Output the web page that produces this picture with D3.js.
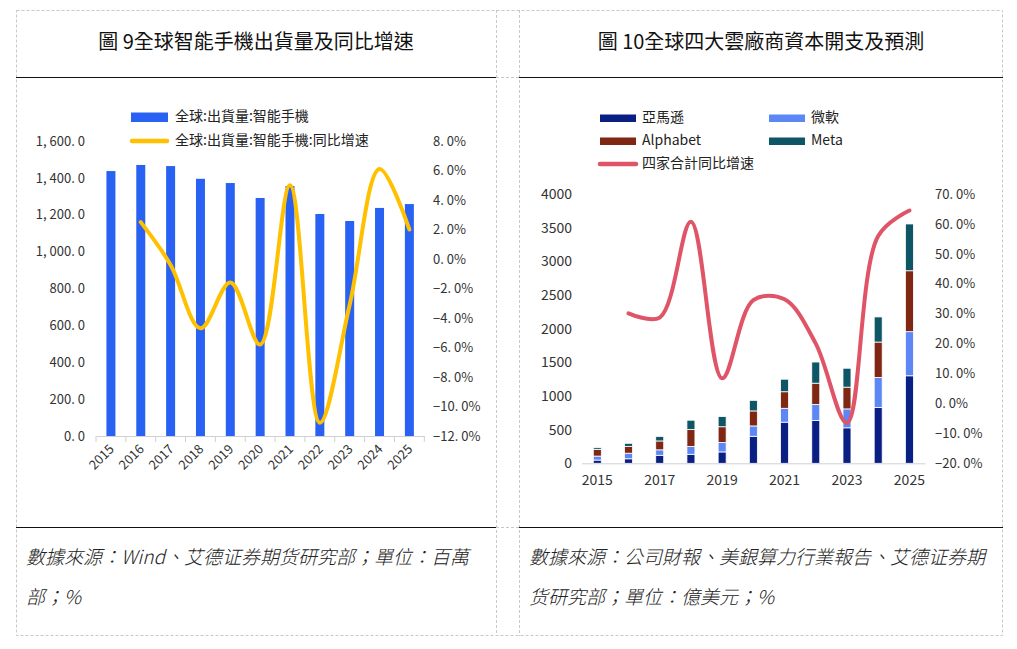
<!DOCTYPE html>
<html>
<head>
<meta charset="utf-8">
<script src="https://cdn.jsdelivr.net/npm/d3@7"></script>
<style>
  body { margin: 0; background: #fff; }
  text { font-family: "Noto Sans CJK TC", "Noto Sans CJK SC", sans-serif; fill: #222; }
  .tick-label { font-family: "Noto Sans CJK SC", sans-serif; font-size: 13px; fill: #333; }
  .legend { font-family: "Noto Sans CJK SC", sans-serif; font-size: 14px; fill: #222; }
  .title { font-size: 20px; font-weight: 400; fill: #111; }
  .footer { font-size: 19px; font-style: italic; font-weight: 300; fill: #222; }
</style>
</head>
<body>
<svg id="chart" width="1017" height="649"></svg>
<script>
// ---- data: chart 9 (smartphone shipments, millions / YoY %) ----
const YEARS = ['2015', '2016', '2017', '2018', '2019', '2020', '2021', '2022', '2023', '2024', '2025'];
const PHONE_SHIPMENTS = [1437, 1470, 1464, 1395, 1372, 1291, 1356, 1204, 1166, 1237, 1258];
const PHONE_GROWTH = [null, 2.5, -0.4, -4.7, -1.6, -5.8, 5.0, -11.1, -3.1, 6.1, 2.0];
const PHONE_LEFT_TICKS = [0, 200, 400, 600, 800, 1000, 1200, 1400, 1600];
const PHONE_RIGHT_TICKS = [-12, -10, -8, -6, -4, -2, 0, 2, 4, 6, 8];

// ---- data: chart 10 (cloud capex, 億美元 / YoY %) ----
const CAPEX_KEYS = ['亞馬遜', '微軟', 'Alphabet', 'Meta'];
const AMAZON = [48, 67, 119, 134, 169, 401, 611, 636, 527, 830, 1300];
const MICROSOFT = [59, 83, 81, 116, 139, 154, 206, 239, 281, 446, 655];
const ALPHABET = [99, 102, 132, 251, 235, 223, 246, 315, 323, 525, 905];
const META = [25, 45, 67, 139, 151, 157, 186, 314, 281, 373, 695];
const CAPEX_GROWTH = [null, 30.1, 28.7, 60.7, 8.4, 34.5, 34.8, 20.0, -6.5, 56.0, 64.5];
const CAPEX_LEFT_TICKS = [0, 500, 1000, 1500, 2000, 2500, 3000, 3500, 4000];
const CAPEX_RIGHT_TICKS = [-20, -10, 0, 10, 20, 30, 40, 50, 60, 70];
const CAPEX_X_LABELS = ['2015', '2017', '2019', '2021', '2023', '2025'];

const BAR_BLUE = '#2962f2';
const LINE_YELLOW = '#ffc000';
const CAPEX_COLORS = ['#0a1f84', '#5c87f5', '#7f2712', '#0e5566'];
const LINE_RED = '#e05468';

const svg = d3.select('#chart');

// spaced number formats, as the source renders them
const fmtThousands = v => d3.format(',.1f')(v).replace(',', ', ').replace('.', '. ');
const fmtPct = v => d3.format('.1f')(v).replace('-', '−').replace('.', '. ') + '%';

// smoothed line similar to the spreadsheet's "smooth line"
const smooth = d3.curveCatmullRom.alpha(0.5);

//////////////
// Frames   //
//////////////

const frame = svg.append('g')
  .attr('fill', 'none')
  .attr('stroke', '#c8c8c8')
  .attr('stroke-dasharray', '3,2');
frame.append('rect').attr('x', 16.5).attr('y', 10.5).attr('width', 986).attr('height', 625);
frame.append('line').attr('x1', 496.5).attr('x2', 496.5).attr('y1', 10).attr('y2', 636);
frame.append('line').attr('x1', 519.5).attr('x2', 519.5).attr('y1', 10).attr('y2', 636);
frame.append('line').attr('x1', 496).attr('x2', 519).attr('y1', 77.5).attr('y2', 77.5);
frame.append('line').attr('x1', 496).attr('x2', 519).attr('y1', 527.5).attr('y2', 527.5);

const solid = svg.append('g').attr('stroke', '#111').attr('stroke-width', 1.2);
[[16, 496], [519, 1003]].forEach(([a, b]) => {
  solid.append('line').attr('x1', a).attr('x2', b).attr('y1', 77.5).attr('y2', 77.5);
  solid.append('line').attr('x1', a).attr('x2', b).attr('y1', 527.5).attr('y2', 527.5);
});

svg.append('text').attr('class', 'title')
  .attr('x', 256).attr('y', 44).attr('text-anchor', 'middle').attr('dominant-baseline', 'middle')
  .text('圖 9全球智能手機出貨量及同比增速');
svg.append('text').attr('class', 'title')
  .attr('x', 761).attr('y', 44).attr('text-anchor', 'middle').attr('dominant-baseline', 'middle')
  .text('圖 10全球四大雲廠商資本開支及預測');

const footers = [
  { x: 26, lines: ['數據來源：Wind、艾德证券期货研究部；單位：百萬', '部；%'] },
  { x: 529, lines: ['數據來源：公司財報、美銀算力行業報告、艾德证券期', '货研究部；單位：億美元；%'] }
];
footers.forEach(f => {
  f.lines.forEach((l, i) => {
    svg.append('text').attr('class', 'footer')
      .attr('x', f.x).attr('y', 559 + i * 40).attr('dominant-baseline', 'middle')
      .text(l);
  });
});

///////////////////////////
// Chart 9: smartphones  //
///////////////////////////

(function () {
  const g = svg.append('g');
  const x = d3.scaleBand().domain(YEARS).range([96, 424.3]);
  const yL = d3.scaleLinear().domain([0, 1600]).range([436, 141]);
  const yR = d3.scaleLinear().domain([-12, 8]).range([436, 141]);
  const barW = 9;

  g.selectAll('rect.bar')
    .data(YEARS.map((y, i) => ({ year: y, v: PHONE_SHIPMENTS[i] })))
    .enter().append('rect')
      .attr('class', 'bar')
      .attr('x', d => x(d.year) + x.bandwidth() / 2 - barW / 2)
      .attr('width', barW)
      .attr('y', d => yL(d.v))
      .attr('height', d => yL(0) - yL(d.v))
      .attr('fill', BAR_BLUE);

  // x axis
  const xAxis = g.append('g').attr('transform', `translate(0,${yL(0)})`)
    .call(d3.axisBottom(x).tickSize(0).tickFormat(''));
  xAxis.select('.domain').attr('stroke', '#d0d0d0');
  xAxis.selectAll('.tick').remove();
  const edges = YEARS.map(y => x(y)).concat([x.range()[1]]);
  g.selectAll('line.xtick').data(edges).enter().append('line')
    .attr('x1', d => d).attr('x2', d => d)
    .attr('y1', yL(0)).attr('y2', yL(0) + 6)
    .attr('stroke', '#d0d0d0');
  g.selectAll('text.xlab').data(YEARS).enter().append('text')
    .attr('class', 'tick-label')
    .attr('text-anchor', 'end')
    .attr('transform', d => `translate(${x(d) + x.bandwidth() / 2 + 4},${yL(0) + 14}) rotate(-45)`)
    .text(d => d);

  // y axes
  const left = g.append('g').attr('transform', 'translate(85,0)')
    .call(d3.axisLeft(yL).tickValues(PHONE_LEFT_TICKS).tickSize(0).tickPadding(0).tickFormat(fmtThousands));
  left.select('.domain').remove();
  left.selectAll('text').attr('class', 'tick-label').attr('fill', null).attr('font-size', null).attr('font-family', null);

  const right = g.append('g').attr('transform', 'translate(433,0)')
    .call(d3.axisRight(yR).tickValues(PHONE_RIGHT_TICKS).tickSize(0).tickPadding(0).tickFormat(fmtPct));
  right.select('.domain').remove();
  right.selectAll('text').attr('class', 'tick-label').attr('fill', null).attr('font-size', null).attr('font-family', null);

  // growth line
  const pts = YEARS.map((y, i) => ({ year: y, v: PHONE_GROWTH[i] })).filter(d => d.v !== null);
  g.append('path')
    .datum(pts)
    .attr('fill', 'none')
    .attr('stroke', LINE_YELLOW)
    .attr('stroke-width', 4)
    .attr('stroke-linecap', 'round')
    .attr('d', d3.line()
      .x(d => x(d.year) + x.bandwidth() / 2)
      .y(d => yR(d.v))
      .curve(smooth));

  // legend
  const lg = g.append('g');
  lg.append('rect').attr('x', 131).attr('y', 112.5).attr('width', 37).attr('height', 9.5).attr('fill', BAR_BLUE);
  lg.append('text').attr('class', 'legend').attr('x', 175).attr('y', 117.5)
    .attr('dominant-baseline', 'middle').text('全球:出貨量:智能手機');
  lg.append('line').attr('x1', 132).attr('x2', 167).attr('y1', 141).attr('y2', 141)
    .attr('stroke', LINE_YELLOW).attr('stroke-width', 4.5).attr('stroke-linecap', 'round');
  lg.append('text').attr('class', 'legend').attr('x', 175).attr('y', 141)
    .attr('dominant-baseline', 'middle').text('全球:出貨量:智能手機:同比增速');
})();

////////////////////////////
// Chart 10: cloud capex  //
////////////////////////////

(function () {
  const g = svg.append('g');
  const x = d3.scaleBand().domain(YEARS).range([581.7, 925]);
  const yL = d3.scaleLinear().domain([0, 4000]).range([463.3, 194]);
  const yR = d3.scaleLinear().domain([-20, 70]).range([463.3, 194]);
  const barW = 8;

  const rows = YEARS.map((y, i) => ({
    year: y,
    '亞馬遜': AMAZON[i],
    '微軟': MICROSOFT[i],
    'Alphabet': ALPHABET[i],
    'Meta': META[i]
  }));
  const stacked = d3.stack().keys(CAPEX_KEYS)(rows);

  g.selectAll('g.layer')
    .data(stacked)
    .enter().append('g')
      .attr('class', 'layer')
      .attr('fill', (d, i) => CAPEX_COLORS[i])
    .selectAll('rect')
    .data(d => d)
    .enter().append('rect')
      .attr('x', d => x(d.data.year) + x.bandwidth() / 2 - barW / 2)
      .attr('width', barW)
      .attr('y', d => yL(d[1]))
      .attr('height', d => yL(d[0]) - yL(d[1]))
      .attr('stroke', '#fff')
      .attr('stroke-width', 0.8);

  const xAxis = g.append('g').attr('transform', `translate(0,${yL(0)})`)
    .call(d3.axisBottom(x).tickSize(0).tickPadding(12).tickValues(CAPEX_X_LABELS));
  xAxis.select('.domain').attr('stroke', '#d0d0d0');
  xAxis.selectAll('text').attr('class', 'tick-label').attr('fill', null).attr('font-size', null)
    .attr('font-family', null).style('font-size', '14px');

  const left = g.append('g').attr('transform', 'translate(572,0)')
    .call(d3.axisLeft(yL).tickValues(CAPEX_LEFT_TICKS).tickSize(0).tickPadding(0).tickFormat(d3.format('d')));
  left.select('.domain').remove();
  left.selectAll('text').attr('class', 'tick-label').attr('fill', null).attr('font-size', null)
    .attr('font-family', null).style('font-size', '14px');

  const right = g.append('g').attr('transform', 'translate(935,0)')
    .call(d3.axisRight(yR).tickValues(CAPEX_RIGHT_TICKS).tickSize(0).tickPadding(0).tickFormat(fmtPct));
  right.select('.domain').remove();
  right.selectAll('text').attr('class', 'tick-label').attr('fill', null).attr('font-size', null).attr('font-family', null);

  const pts = YEARS.map((y, i) => ({ year: y, v: CAPEX_GROWTH[i] })).filter(d => d.v !== null);
  g.append('path')
    .datum(pts)
    .attr('fill', 'none')
    .attr('stroke', LINE_RED)
    .attr('stroke-width', 4)
    .attr('stroke-linecap', 'round')
    .attr('d', d3.line()
      .x(d => x(d.year) + x.bandwidth() / 2)
      .y(d => yR(d.v))
      .curve(smooth));

  // legend
  const items = [
    { key: '亞馬遜', c: CAPEX_COLORS[0], x: 600, y: 118 },
    { key: '微軟', c: CAPEX_COLORS[1], x: 769, y: 118 },
    { key: 'Alphabet', c: CAPEX_COLORS[2], x: 600, y: 141 },
    { key: 'Meta', c: CAPEX_COLORS[3], x: 769, y: 141 }
  ];
  const lg = g.append('g');
  items.forEach(it => {
    lg.append('rect').attr('x', it.x).attr('y', it.y - 3.5).attr('width', 36).attr('height', 7.5).attr('fill', it.c);
    lg.append('text').attr('class', 'legend').attr('x', it.x + 42).attr('y', it.y)
      .attr('dominant-baseline', 'middle').text(it.key);
  });
  lg.append('line').attr('x1', 600).attr('x2', 636).attr('y1', 164).attr('y2', 164)
    .attr('stroke', LINE_RED).attr('stroke-width', 4.5).attr('stroke-linecap', 'round');
  lg.append('text').attr('class', 'legend').attr('x', 642).attr('y', 164)
    .attr('dominant-baseline', 'middle').text('四家合計同比增速');
})();
</script>
</body>
</html>
